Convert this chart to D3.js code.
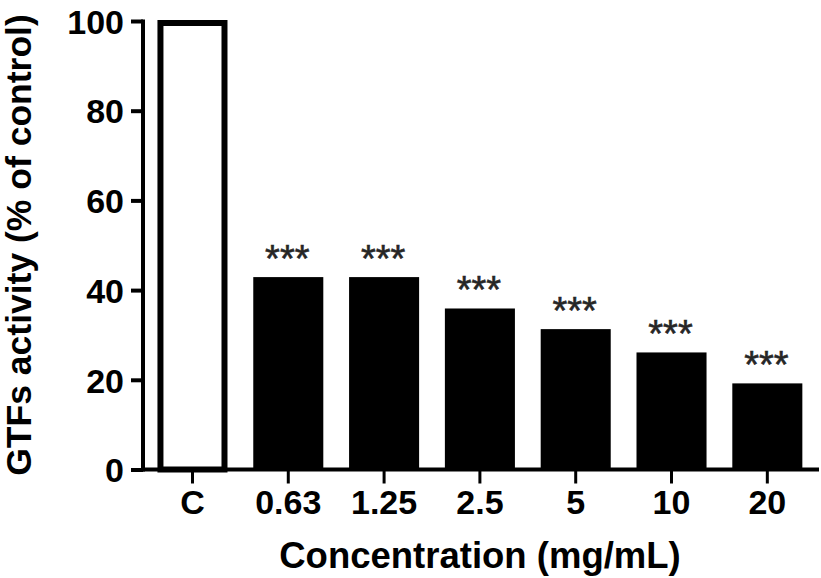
<!DOCTYPE html>
<html><head><meta charset="utf-8">
<script src="https://cdn.jsdelivr.net/npm/d3@7"></script>
<style>html,body{margin:0;padding:0;background:#fff;}svg{display:block;}</style>
</head><body>
<svg id="c" width="821" height="578"></svg>
<script>
const categories = ["C", "0.63", "1.25", "2.5", "5", "10", "20"];
const values = [100, 42.9, 42.9, 35.9, 31.3, 26.1, 19.2];
const significance = ["", "***", "***", "***", "***", "***", "***"];
const yTicks = [0, 20, 40, 60, 80, 100];
const xTitle = "Concentration (mg/mL)";
const yTitle = "GTFs activity (% of control)";

const svg = d3.select("#c");
const font = "'Liberation Sans', Arial, sans-serif";

const x = d3.scaleBand().domain(categories).range([145, 814.8]).paddingInner(0.269).paddingOuter(0.13);
const y = d3.scaleLinear().domain([0, 100]).range([469.5, 21]);

// bars
const g = svg.append("g");
categories.forEach((c, i) => {
  const v = values[i];
  if (i === 0) {
    g.append("rect")
      .attr("x", x(c) + 3).attr("width", x.bandwidth() - 6)
      .attr("y", y(v) + 2).attr("height", y(0) - y(v) - 2)
      .attr("fill", "#fff").attr("stroke", "#000").attr("stroke-width", 6);
  } else {
    g.append("rect")
      .attr("x", x(c)).attr("width", x.bandwidth())
      .attr("y", y(v)).attr("height", y(0) - y(v))
      .attr("fill", "#000");
  }
  if (significance[i]) {
    g.append("text")
      .attr("x", x(c) + x.bandwidth() / 2 - 1)
      .attr("y", y(v) - 5)
      .attr("text-anchor", "middle")
      .attr("font-family", font).attr("font-size", 38)
      .attr("fill", "#262626")
      .attr("stroke", "#262626").attr("stroke-width", 0.6)
      .text(significance[i]);
  }
});

// y axis
const yAxis = d3.axisLeft(y).tickValues(yTicks).tickSize(12).tickPadding(7).tickSizeOuter(0);
const ya = svg.append("g").attr("transform", "translate(143,0)").call(yAxis);
ya.select(".domain").remove();
ya.append("line").attr("x1", 0).attr("x2", 0).attr("y1", y(100) - 1.5).attr("y2", y(0) + 2)
  .attr("stroke", "#000").attr("stroke-width", 4);
ya.selectAll(".tick line").attr("stroke", "#000").attr("stroke-width", 4);
ya.selectAll(".tick text").attr("font-family", font).attr("font-size", 34)
  .attr("font-weight", "bold").attr("fill", "#000").attr("dy", "0.36em");

// x axis
const xAxis = d3.axisBottom(x).tickSize(14).tickPadding(6).tickSizeOuter(0);
const xa = svg.append("g").attr("transform", "translate(0," + y(0) + ")").call(xAxis);
xa.select(".domain").remove();
xa.append("line").attr("x1", 141).attr("x2", 819).attr("y1", 0).attr("y2", 0)
  .attr("stroke", "#000").attr("stroke-width", 4);
xa.selectAll(".tick line").attr("stroke", "#000").attr("stroke-width", 3);
xa.selectAll(".tick text").attr("font-family", font).attr("font-size", 34)
  .attr("font-weight", "bold").attr("fill", "#000").attr("dy", "0.71em");

// titles
svg.append("text").attr("x", 480).attr("y", 568)
  .attr("text-anchor", "middle").attr("font-family", font).attr("font-size", 36.5)
  .attr("font-weight", "bold").attr("fill", "#000").text(xTitle);
svg.append("text").attr("transform", "translate(31,245) rotate(-90)")
  .attr("text-anchor", "middle").attr("font-family", font).attr("font-size", 35.5)
  .attr("font-weight", "bold").attr("fill", "#000").text(yTitle);
</script>
</body></html>
